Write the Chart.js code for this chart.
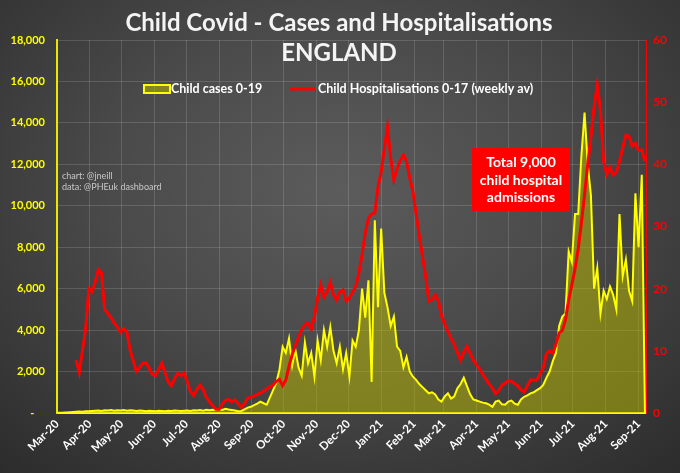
<!DOCTYPE html>
<html>
<head>
<meta charset="utf-8">
<title>Child Covid - Cases and Hospitalisations</title>
<script src="https://cdn.jsdelivr.net/npm/chart.js@4.4.1/dist/chart.umd.min.js"></script>
<style>
  html, body { margin: 0; padding: 0; }
  body {
    width: 680px; height: 473px; overflow: hidden;
    background: radial-gradient(ellipse 75% 80% at 50% 40%, #5c5c5c 0%, #4a4a4a 45%, #2c2c2c 100%);
  }
  #wrap { position: relative; width: 680px; height: 473px; }
</style>
</head>
<body>
<div id="wrap"><canvas id="chart"></canvas></div>
<script>
// ========================================
// DATA
// ========================================

// axis starts 1 Mar 2020, one sample every 3 days
const START = Date.UTC(2020, 2, 1);
const STEP_DAYS = 3;
const AXIS_DAYS = 556;

const monthLabels = ['Mar-20','Apr-20','May-20','Jun-20','Jul-20','Aug-20','Sep-20','Oct-20','Nov-20',
    'Dec-20','Jan-21','Feb-21','Mar-21','Apr-21','May-21','Jun-21','Jul-21','Aug-21','Sep-21'];

// Child cases 0-19 (daily)
const childCases = [
    10, 15, 20, 30, 40, 50, 60, 70, 60, 80,
    90, 100, 110, 120, 100, 130, 120, 140, 110, 130,
    120, 140, 110, 130, 120, 100, 120, 110, 90, 110,
    100, 90, 110, 100, 90, 110, 100, 120, 110, 100,
    110, 120, 100, 130, 120, 140, 110, 150, 130, 160,
    140, 180, 150, 200, 170, 150, 120, 80, 100, 180,
    260, 300, 380, 450, 550, 470, 400, 750, 1100, 1450,
    2100, 3200, 2900, 3600, 2300, 3050, 2200, 1800, 3400, 2400,
    2900, 1750, 3500, 2550, 4000, 3200, 4150, 3000, 2400, 3200,
    2100, 2900, 1750, 3500, 3200, 4000, 6000, 4600, 6400, 1500,
    9300, 5100, 8900, 5800, 5100, 4200, 4650, 3200, 3000, 2200,
    2700, 2000, 1750, 1600, 1400, 1250, 1100, 950, 1000, 900,
    650, 550, 800, 950, 700, 800, 1200, 1400, 1700, 1300,
    900, 650, 600, 550, 500, 470, 400, 300, 550, 600,
    420, 400, 550, 600, 450, 400, 650, 780, 850, 950,
    1000, 1100, 1200, 1350, 1700, 2000, 2500, 2900, 4200, 4650,
    4800, 7800, 7300, 9600, 9600, 12400, 14500, 12000, 10500, 6000,
    7000, 4800, 5900, 5500, 6100, 5700, 5000, 9600, 6600, 7400,
    5900, 5400, 10600, 8000, 11500, 0
];

// Child hospitalisations 0-17 (weekly average)
const childHosp = [
    null, null, null, null, null, null, 8.5, 6.5, 10.0, 13.5,
    20.0, 19.5, 21.0, 23.1, 22.5, 16.6, 16.0, 15.3, 14.5, 13.8,
    13.0, 13.6, 13.0, 10.1, 8.4, 6.7, 7.3, 8.0, 8.1, 7.2,
    6.2, 6.0, 7.0, 8.0, 6.5, 5.0, 4.4, 5.5, 6.4, 6.0,
    6.4, 5.0, 3.4, 2.8, 3.8, 4.5, 3.8, 2.5, 1.8, 1.2,
    0.6, 0.6, 1.4, 2.0, 2.2, 1.8, 2.1, 1.5, 0.9, 1.5,
    2.4, 2.6, 2.7, 3.0, 3.2, 3.5, 3.9, 4.2, 4.5, 5.1,
    5.4, 4.4, 5.3, 7.5, 9.4, 10.8, 12.2, 13.4, 14.2, 14.5,
    13.5, 15.5, 18.5, 20.6, 18.6, 19.5, 21.0, 19.0, 18.2, 19.5,
    19.8, 18.0, 18.5, 19.4, 20.4, 22.5, 25.5, 29.0, 31.3, 32.0,
    32.2, 36.3, 38.8, 42.5, 46.0, 41.0, 37.5, 39.2, 40.6, 41.5,
    40.5, 37.8, 35.6, 32.0, 28.5, 25.2, 22.0, 18.0, 18.2, 19.0,
    18.0, 15.6, 14.3, 13.1, 12.0, 11.0, 9.7, 8.5, 9.8, 10.7,
    9.6, 8.5, 7.8, 7.0, 6.2, 5.4, 4.7, 4.0, 3.1, 3.6,
    4.5, 4.8, 5.2, 5.1, 4.7, 4.4, 3.7, 3.4, 4.4, 5.3,
    5.3, 5.3, 6.3, 7.3, 9.6, 10.0, 9.6, 11.0, 12.9, 13.3,
    15.0, 18.2, 20.6, 23.2, 26.4, 30.6, 35.1, 40.0, 44.4, 49.3,
    52.8, 48.6, 40.5, 38.4, 39.5, 38.3, 38.7, 40.5, 42.6, 44.7,
    44.5, 42.9, 43.4, 42.2, 42.3, 40.5
];

// day offsets of each month start, for ticks + gridlines
const monthDays = monthLabels.map((m, i) => (Date.UTC(2020, 2 + i, 1) - START) / 86400000);
const toPoints = arr => arr.map((v, i) => ({ x: i * STEP_DAYS, y: v }));

// ========================================
// OVERLAY: title, legend, note, credits
// ========================================
const overlay = {
    id: 'overlay',
    afterDraw(chart) {
        const ctx = chart.ctx;
        ctx.save();
        ctx.textBaseline = 'middle';

        // title
        ctx.fillStyle = '#f4f4f4';
        ctx.textAlign = 'center';
        ctx.font = 'bold 24px Lato';
        ctx.fillText('Child Covid - Cases and Hospitalisations', 339, 23);
        ctx.fillText('ENGLAND', 339, 53);

        // legend
        ctx.fillStyle = 'rgba(190,190,0,0.5)';
        ctx.fillRect(144, 85, 26, 8);
        ctx.strokeStyle = '#ffff00';
        ctx.lineWidth = 2;
        ctx.strokeRect(144, 85, 26, 8);
        ctx.strokeStyle = '#ff0000';
        ctx.lineWidth = 3;
        ctx.beginPath();
        ctx.moveTo(290, 89);
        ctx.lineTo(316, 89);
        ctx.stroke();
        ctx.fillStyle = '#ffffff';
        ctx.textAlign = 'left';
        ctx.font = 'bold 12.5px Lato';
        ctx.fillText('Child cases 0-19', 171, 89);
        ctx.fillText('Child Hospitalisations 0-17 (weekly av)', 318, 89);

        // note box
        ctx.fillStyle = '#ff0000';
        ctx.fillRect(472, 148, 98, 63);
        ctx.fillStyle = '#ffffff';
        ctx.textAlign = 'center';
        ctx.font = 'bold 14px Lato';
        ctx.fillText('Total 9,000', 521, 162);
        ctx.fillText('child hospital', 521, 180);
        ctx.fillText('admissions', 521, 197);

        // credits
        ctx.fillStyle = '#c8c8c8';
        ctx.textAlign = 'left';
        ctx.font = '9px Lato';
        ctx.fillText('chart: @jneill', 62, 176);
        ctx.fillText('data: @PHEuk dashboard', 62, 187);
        ctx.restore();
    }
};

// ========================================
// CHART
// ========================================
Chart.defaults.font.family = 'Lato';
const gridColor = 'rgba(255,255,255,0.14)';

new Chart(document.getElementById('chart').getContext('2d'), {
    type: 'line',
    data: {
        datasets: [
            {
                label: 'Child Hospitalisations 0-17 (weekly av)',
                data: toPoints(childHosp),
                yAxisID: 'y1',
                borderColor: '#ff0000',
                borderWidth: 3,
                pointRadius: 0,
                fill: false,
                order: 0
            },
            {
                label: 'Child cases 0-19',
                data: toPoints(childCases),
                yAxisID: 'y',
                borderColor: '#ffff00',
                borderWidth: 2,
                backgroundColor: 'rgba(190,190,0,0.5)',
                pointRadius: 0,
                fill: 'origin',
                order: 1
            }
        ]
    },
    options: {
        responsive: true,
        maintainAspectRatio: false,
        animation: false,
        layout: { padding: { top: 40, left: 0, right: 0, bottom: 0 } },
        plugins: { legend: { display: false }, title: { display: false }, tooltip: { enabled: false } },
        scales: {
            x: {
                type: 'linear',
                min: 0,
                max: AXIS_DAYS,
                afterBuildTicks: s => { s.ticks = monthDays.map(v => ({ value: v })); },
                afterFit: s => { s.height = 60; },
                ticks: {
                    autoSkip: false,
                    minRotation: 45,
                    maxRotation: 45,
                    padding: 4,
                    color: '#ffffff',
                    font: { size: 11.5, weight: 'bold' },
                    callback: (v, i) => monthLabels[i]
                },
                grid: { color: gridColor, drawTicks: false },
                border: { color: '#ffff00', width: 2 }
            },
            y: {
                position: 'left',
                min: 0,
                max: 18000,
                afterFit: s => { s.width = 57; },
                ticks: {
                    stepSize: 2000,
                    padding: 12,
                    color: '#ffff00',
                    font: { size: 11, weight: 'bold' },
                    callback: v => v === 0 ? '-    ' : v.toLocaleString('en-US')
                },
                grid: { color: gridColor, drawTicks: false },
                border: { color: '#e8e800', width: 2 }
            },
            y1: {
                position: 'right',
                min: 0,
                max: 60,
                afterFit: s => { s.width = 34; },
                ticks: {
                    stepSize: 10,
                    padding: 7,
                    color: '#ff0000',
                    font: { size: 12, weight: 'bold' }
                },
                grid: { drawOnChartArea: false, drawTicks: false },
                border: { color: '#ff0000', width: 1 }
            }
        }
    },
    plugins: [overlay]
});
</script>
</body>
</html>
